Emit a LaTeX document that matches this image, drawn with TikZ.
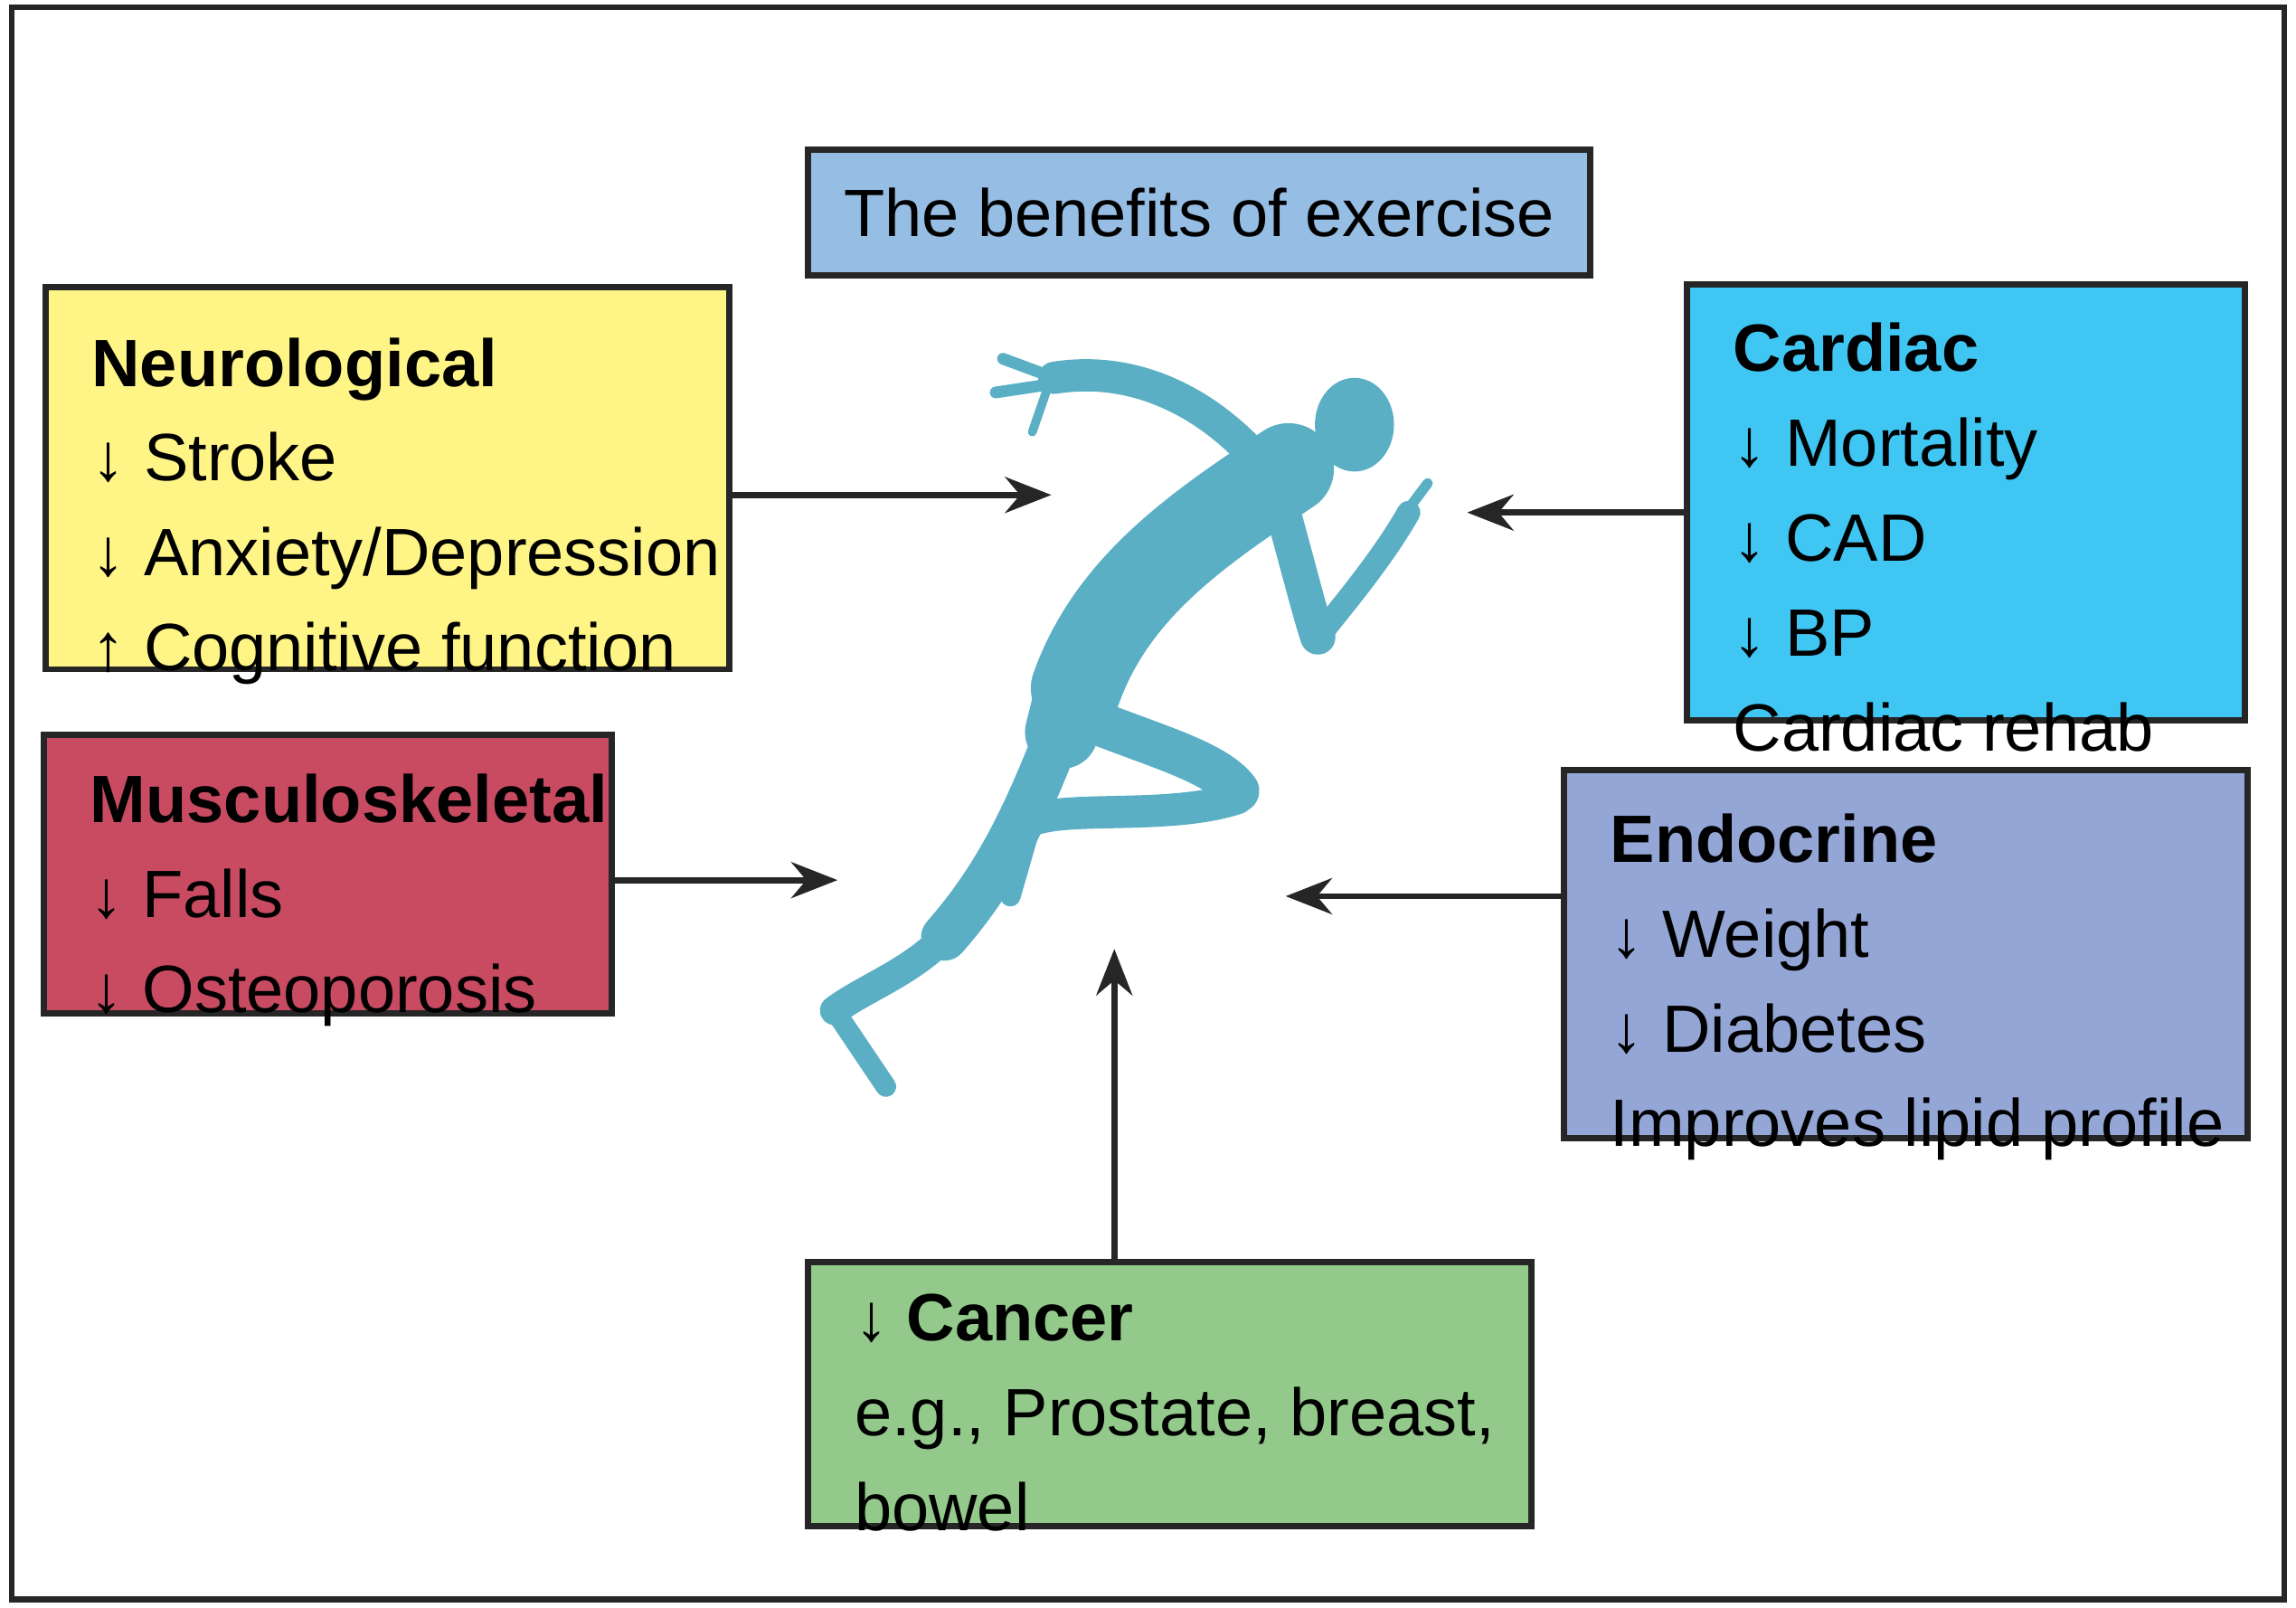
\documentclass[tikz,border=0pt]{standalone}
\usepackage{fontspec}
\setmainfont{Liberation Sans}
\usetikzlibrary{arrows.meta}
\definecolor{ctitle}{HTML}{96BDE3}
\definecolor{cneuro}{HTML}{FFF587}
\definecolor{ccard}{HTML}{3FC6F2}
\definecolor{cmus}{HTML}{C84B62}
\definecolor{cendo}{HTML}{94A6D6}
\definecolor{ccan}{HTML}{93C98A}
\definecolor{crun}{HTML}{5BAFC4}
\tikzset{
  panel/.style={draw=black!85, line width=1.2pt},
  txt/.style={anchor=north west, inner sep=0pt, align=left, font=\fontsize{13}{15.4}\selectfont},
  arr/.style={-{Stealth[length=9pt,width=7pt]}, line width=1.2pt, black!85},
  limb/.style={crun, line cap=round, line join=round}
}
\begin{document}
\begin{tikzpicture}[x=0.01cm,y=-0.01cm]
\useasboundingbox (0,0) rectangle (1568,1098);
\draw[line width=1.2pt, black!85] (8,5) rectangle (1560,1092);
% runner
\fill[crun] (925,290) ellipse (27 and 32);
\draw[limb, line width=0.62cm] (880,320) .. controls (820,360) and (760,400) .. (735,470);
\draw[limb, line width=0.5cm] (735,460) -- (725,500);
\draw[limb, line width=0.22cm] (860,315) .. controls (820,270) and (770,250) .. (720,258);
\draw[limb, line width=0.08cm] (720,258) -- (685,245);
\draw[limb, line width=0.08cm] (720,262) -- (680,268);
\draw[limb, line width=0.06cm] (715,266) -- (705,295);
\draw[limb, line width=0.24cm] (875,345) .. controls (890,400) and (895,420) .. (900,435);
\draw[limb, line width=0.16cm] (900,435) .. controls (920,410) and (945,380) .. (962,350);
\draw[limb, line width=0.07cm] (960,350) -- (975,330);
\draw[limb, line width=0.3cm] (740,490) .. controls (790,510) and (830,520) .. (845,540);
\draw[limb, line width=0.22cm] (845,545) .. controls (800,560) and (730,550) .. (705,560);
\draw[limb, line width=0.14cm] (705,560) -- (690,612);
\draw[limb, line width=0.32cm] (725,495) .. controls (700,560) and (680,600) .. (645,640);
\draw[limb, line width=0.2cm] (645,640) .. controls (620,665) and (590,675) .. (570,690);
\draw[limb, line width=0.14cm] (570,690) -- (605,742);
% boxes
\node[panel, fill=ctitle, minimum width=5.34cm, minimum height=0.86cm, font=\fontsize{13}{15.4}\selectfont] (title) at (819,145) {The benefits of exercise};
\draw[panel, fill=cneuro] (31,196) rectangle (498,457);
\node[txt] (neuro) at (62,230) {\textbf{Neurological}\\[3pt]↓ Stroke\\[3pt]↓ Anxiety/Depression\\[3pt]↑ Cognitive function};
\draw[panel, fill=ccard] (1152,194) rectangle (1533,492);
\node[txt] (card) at (1183,220) {\textbf{Cardiac}\\[3pt]↓ Mortality\\[3pt]↓ CAD\\[3pt]↓ BP\\[3pt]Cardiac rehab};
\draw[panel, fill=cmus] (30,502) rectangle (418,692);
\node[txt] (mus) at (61,528) {\textbf{Musculoskeletal}\\[3pt]↓ Falls\\[3pt]↓ Osteoporosis};
\draw[panel, fill=cendo] (1068,526) rectangle (1535,777);
\node[txt] (endo) at (1099,555) {\textbf{Endocrine}\\[3pt]↓ Weight\\[3pt]↓ Diabetes\\[3pt]Improves lipid profile};
\draw[panel, fill=ccan] (552,862) rectangle (1046,1042);
\node[txt] (can) at (583,883) {↓ \textbf{Cancer}\\[3pt]e.g., Prostate, breast,\\[3pt]bowel};
% arrows
\coordinate (n1) at (498,338); \coordinate (n2) at (718,338);
\coordinate (c1) at (1152,350); \coordinate (c2) at (1002,350);
\coordinate (m1) at (418,601); \coordinate (m2) at (572,601);
\coordinate (e1) at (1068,612); \coordinate (e2) at (878,612);
\coordinate (k1) at (761,862); \coordinate (k2) at (761,648);
\draw[arr] (n1) -- (n2);
\draw[arr] (c1) -- (c2);
\draw[arr] (m1) -- (m2);
\draw[arr] (e1) -- (e2);
\draw[arr] (k1) -- (k2);
\end{tikzpicture}
\end{document}
